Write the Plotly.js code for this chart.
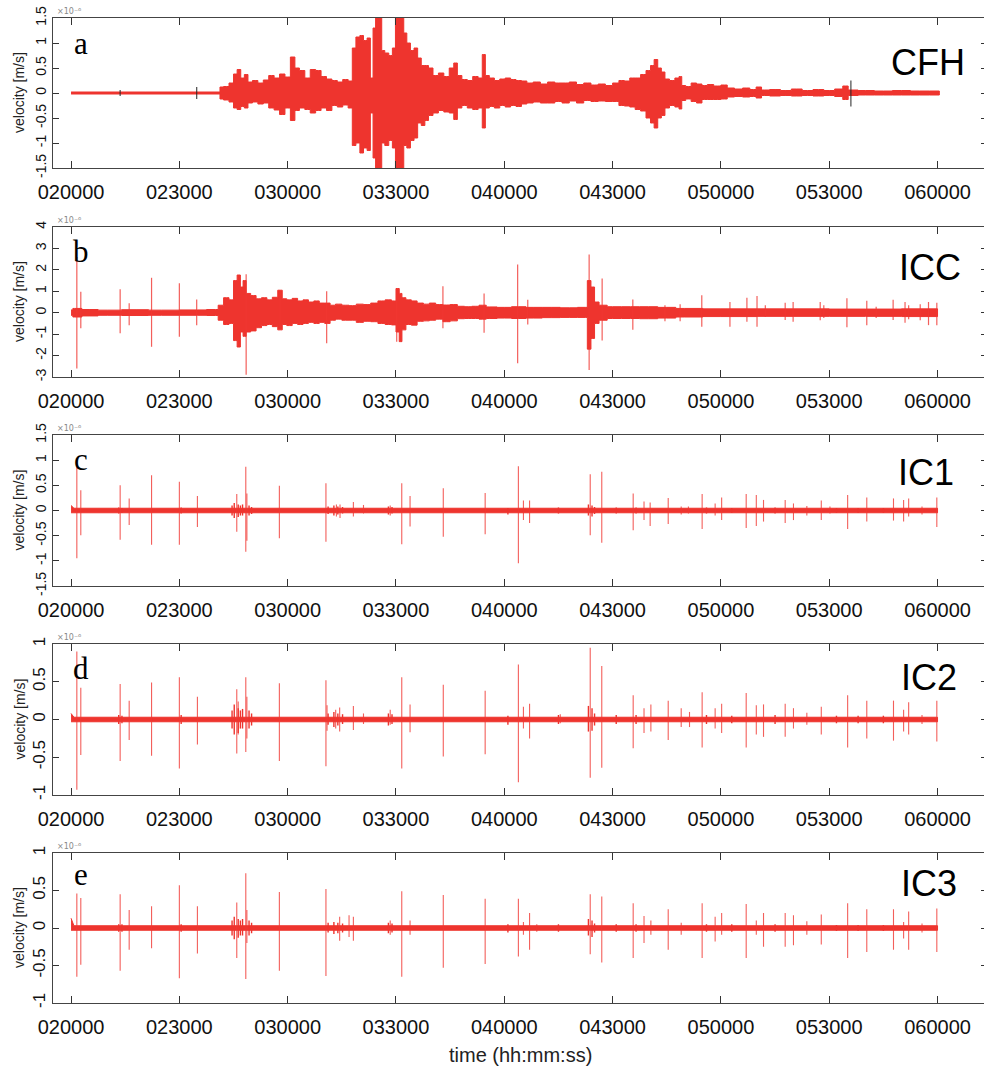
<!DOCTYPE html>
<html><head><meta charset="utf-8">
<script src="https://cdn.plot.ly/plotly-3.0.1.min.js"></script>
<style>html,body{margin:0;padding:0;overflow:hidden;background:#fff}</style>
</head><body><div id="chart" style="width:987px;height:1074px"></div>
<script>
// ---- time axis (minutes after 02:00:00) ----
const xTickVals = [0,30,60,90,120,150,180,210,240];
const xTickText = ['020000','023000','030000','033000','040000','043000','050000','053000','060000'];
const stationNames = ['CFH','ICC','IC1','IC2','IC3'];
const panelLetters = ['a','b','c','d','e'];

// ---- panel a: CFH envelope (x1e-6 m/s) ----
const cfhT = [0,41,41.5,43,44.5,45.5,46.5,47.5,48.5,49.5,
 51,52.5,54,55.5,57,58.5,60,61.5,62.5,64,
 65.5,67,68.5,70,71.5,73,74.5,76,77.5,78.3,
 79.5,80.5,81.5,82.5,83.3,84,84.7,85.8,86.3,87.5,
 88.5,89.5,90.2,91.8,92.5,93.5,94.5,95.5,96.5,97.5,
 98.5,99.5,101,102.5,104,105.5,106.5,107.5,109,110.5,
 112,113.5,114.3,115.2,116.5,118,119.5,121,122.5,124,
 125.5,127,129,131,133,135,137,139,141,143,
 145,147,149,151,152.5,154,155.5,157,158.5,160,
 161,162,163,164,165,166.5,168,168.8,169.5,171,
 172.5,174,175.5,177,179,181,182.5,185,187,189,
 190.5,192,195,198,201,204,207,210,213,214.5,
 216,220,225,230,235,240.5];
const cfhUp = [.02,.02,.12,.13,.2,.38,.47,.3,.37,.22,
 .25,.2,.26,.35,.3,.38,.32,.72,.5,.45,
 .3,.47,.45,.33,.28,.25,.22,.27,.24,.9,
 1.12,1.15,1.05,1.1,.3,1.3,1.6,1.6,.85,.8,
 .75,.9,1.6,1.6,1.2,1,.85,.9,.7,.55,
 .55,.5,.35,.4,.33,.5,.6,.35,.27,.25,
 .33,.3,.77,.35,.3,.25,.28,.3,.27,.25,
 .24,.2,.22,.18,.22,.2,.2,.22,.17,.2,
 .16,.18,.15,.2,.25,.24,.3,.3,.37,.45,
 .55,.67,.5,.42,.28,.25,.3,.33,.15,.13,
 .2,.18,.15,.17,.14,.16,.1,.08,.1,.07,
 .12,.06,.07,.05,.08,.05,.07,.05,.08,.14,
 .06,.05,.04,.05,.04,.04];
const cfhLo = [-.02,-.02,-.12,-.14,-.18,-.3,-.33,-.27,-.3,-.2,
 -.18,-.22,-.2,-.3,-.34,-.43,-.3,-.55,-.35,-.3,
 -.33,-.4,-.35,-.3,-.35,-.25,-.28,-.24,-.3,-1.05,
 -1,-1.2,-1.1,-1.15,-.4,-1.3,-1.6,-1.6,-1,-1.05,
 -.95,-1.1,-1.6,-1.6,-1.05,-1.1,-.95,-.9,-.6,-.65,
 -.55,-.45,-.4,-.35,-.38,-.4,-.53,-.3,-.25,-.3,
 -.33,-.3,-.7,-.3,-.27,-.3,-.25,-.28,-.25,-.27,
 -.22,-.2,-.18,-.2,-.2,-.17,-.2,-.16,-.2,-.15,
 -.17,-.16,-.17,-.17,-.25,-.26,-.28,-.33,-.36,-.5,
 -.6,-.7,-.5,-.45,-.3,-.25,-.28,-.32,-.15,-.12,
 -.17,-.2,-.13,-.13,-.13,-.12,-.08,-.07,-.08,-.07,
 -.1,-.05,-.06,-.05,-.06,-.05,-.06,-.05,-.07,-.13,
 -.05,-.04,-.04,-.04,-.04,-.04];
const cfhBlackT = [13.6,34.8,216];
const cfhBlackUp = [.06,.12,.25];
const cfhBlackLo = [-.06,-.12,-.27];

// ---- panel b: ICC ----
const iccEnvT = [0,1,5,10,18,25,35,40,41.5,43,
 44.5,45.5,46.5,47.3,48,49,50.5,52,53.5,55,
 56.5,58,59,60.5,62,63.5,65,66.5,68,69.5,
 71,72.5,74,76,78,80,82,84,86,88,
 89.5,90.5,91.3,92,93.5,95,96.7,98.5,100,102,
 104,106,108,110,112,114,116,120,124,128,
 133,138,142.5,143.5,144.5,145.5,147,150,155,160,
 165,170,180,200,220,240];
const iccEnvUp = [.13,.2,.15,.12,.14,.12,.13,.15,.35,.7,
 .6,1.5,1.76,1.2,1.5,.9,.8,.65,.7,.6,
 .72,1.05,.65,.6,.67,.55,.6,.5,.55,.45,
 .45,.35,.4,.35,.33,.4,.38,.45,.55,.6,
 .55,1.13,.9,.7,.6,.55,.45,.4,.45,.38,
 .36,.38,.3,.28,.3,.35,.27,.25,.28,.25,
 .25,.23,.25,1.5,1.2,.5,.35,.28,.28,.28,
 .25,.2,.18,.18,.17,.18];
const iccEnvLo = [-.12,-.2,-.15,-.12,-.13,-.12,-.12,-.13,-.35,-.55,
 -.5,-1.3,-1.6,-.9,-1.1,-.9,-.85,-.7,-.6,-.55,
 -.65,-.8,-.55,-.6,-.5,-.55,-.5,-.45,-.5,-.45,
 -.5,-.35,-.3,-.35,-.35,-.45,-.4,-.42,-.5,-.55,
 -.57,-.9,-1.35,-.8,-.55,-.58,-.4,-.38,-.35,-.3,
 -.42,-.38,-.28,-.27,-.27,-.3,-.27,-.25,-.27,-.25,
 -.23,-.22,-.22,-1.7,-1.2,-.5,-.35,-.27,-.27,-.28,
 -.25,-.2,-.18,-.17,-.17,-.18];
const iccSpkT = [1.6,2.7,13.6,16.1,22.3,30,34.8,48.5,57.9,70.8,
 90.2,103,114.4,123.7,126.5,143.5,147.1,155.6,164.5,168.7,
 174.7,182.5,187.2,190,192.3,197.8,200,207.5,208.5,214.9,
 220.4,223,227.7,231,232,235.2,237.5,239.8];
const iccSpkUp = [2.6,.98,1.1,.44,1.63,1.37,.62,1.8,1.06,1.0,
 1.13,1.24,.9,2.25,.6,2.72,1.6,.62,.35,.4,
 .82,.5,.7,.78,.35,.47,.5,.5,.35,.67,
 .56,.28,.6,.5,.35,.39,.5,.47];
const iccSpkLo = [-2.6,-.73,-.96,-.58,-1.59,-1.12,-.58,-2.9,-.8,-1.43,
 -1.35,-.73,-.93,-2.36,-.55,-2.67,-1.3,-.8,-.4,-.4,
 -.65,-.65,-.42,-.65,-.2,-.34,-.42,-.35,-.25,-.68,
 -.58,-.25,-.34,-.47,-.3,-.35,-.58,-.58];

// ---- panels c-e: IC1, IC2, IC3 ----
const icEnvT = [0,0.8,240];
const ic1EnvUp = [.1,.045,.045];
const ic1EnvLo = [-.045,-.045,-.045];
const ic2EnvUp = [.08,.03,.03];
const ic2EnvLo = [-.03,-.03,-.03];
const ic3EnvUp = [.13,.03,.03];
const ic3EnvLo = [-.03,-.03,-.03];

const icBurstT = [13.2,14.1,30.5,44.6,45.2,46.3,46.9,47.5,49.3,50,
 71.2,72.8,73.9,75.2,87.9,88.9,121,135,143.3,144.3,
 145,151,156.5,176,183,195,212,218,225];
const ic1BurstUp = [.06,.05,.06,.1,.15,.12,.1,.12,.1,.07,
 .08,.1,.08,.07,.08,.07,.05,.06,.12,.1,
 .07,.06,.06,.06,.05,.06,.05,.05,.05];
const ic1BurstLo = [-.06,-.05,-.06,-.1,-.15,-.13,-.1,-.1,-.1,-.07,
 -.07,-.1,-.08,-.06,-.08,-.06,-.08,-.06,-.1,-.12,
 -.07,-.06,-.06,-.06,-.05,-.06,-.05,-.05,-.05];
const ic2BurstUp = [.06,.05,.06,.12,.2,.15,.12,.14,.12,.08,
 .08,.1,.08,.07,.08,.07,.05,.06,.18,.15,
 .08,.06,.06,.06,.05,.06,.05,.05,.05];
const ic2BurstLo = [-.06,-.05,-.06,-.12,-.2,-.18,-.12,-.12,-.12,-.08,
 -.07,-.1,-.08,-.06,-.08,-.06,-.07,-.06,-.16,-.15,
 -.08,-.06,-.06,-.06,-.05,-.06,-.05,-.05,-.05];
const ic3BurstUp = [.05,.05,.05,.1,.15,.12,.1,.12,.1,.07,
 .07,.08,.07,.06,.07,.06,.05,.05,.12,.1,
 .06,.05,.05,.05,.05,.05,.04,.04,.04];
const ic3BurstLo = [-.05,-.05,-.05,-.1,-.15,-.13,-.1,-.1,-.1,-.07,
 -.06,-.08,-.07,-.06,-.07,-.06,-.06,-.05,-.1,-.12,
 -.06,-.05,-.05,-.05,-.05,-.05,-.04,-.04,-.04];

const ic1SpkT = [1.6,2.7,13.6,16.1,22.3,30,35,45.9,48.4,48.7,
 57.7,70.6,73.5,74.5,78.2,81,88.4,91.6,93.9,103.1,
 114.7,123.9,125.3,127,143.8,147,155.7,158.7,160.4,165.4,
 169,171,174.8,178.4,180.2,187,189.8,191.8,197.8,200.1,
 203.8,207.8,210.2,215.1,220.4,227.8,230.6,232,235.7,239.8];
const ic1SpkUp = [.87,.4,.5,.24,.7,.57,.29,.33,.87,.34,
 .49,.54,.12,.12,.17,.11,.1,.54,.29,.44,
 .35,.88,.2,.2,.72,.77,.34,.18,.16,.25,
 .08,.08,.33,.14,.26,.33,.31,.21,.21,.14,
 .09,.2,.08,.31,.26,.24,.21,.24,.08,.26];
const ic1SpkLo = [-.95,-.49,-.58,-.29,-.68,-.68,-.33,-.42,-.82,-.6,
 -.55,-.62,-.12,-.15,-.12,-.06,-.1,-.67,-.32,-.52,
 -.47,-1.05,-.19,-.25,-.49,-.64,-.39,-.19,-.31,-.27,
 -.08,-.06,-.37,-.1,-.19,-.35,-.31,-.22,-.25,-.19,
 -.1,-.19,-.06,-.37,-.22,-.2,-.22,-.12,-.08,-.33];

const ic2SpkT = [1.6,2.7,13.6,16.1,22.3,30,35,45.9,46.3,48.4,
 48.7,57.7,70.6,70.9,73.3,74.4,78.2,81,88.4,91.6,
 93.9,103.1,114.7,123.9,125.3,127,135.5,143.8,147,155.7,
 158.7,160.6,165.4,169,171.3,174.8,178.4,180.2,187,189.8,
 191.8,197.8,200.1,203.8,207.8,215.1,220.4,227.8,230.6,232,
 235.7,239.8];
const ic2SpkUp = [.9,.42,.47,.25,.49,.56,.3,.4,.24,.56,
 .3,.48,.52,.19,.13,.16,.18,.08,.13,.56,
 .2,.46,.38,.73,.17,.21,.07,.95,.71,.32,
 .15,.2,.25,.15,.1,.36,.15,.21,.35,.19,
 .2,.21,.15,.09,.17,.32,.25,.25,.13,.23,
 .06,.25];
const ic2SpkLo = [-.93,-.47,-.55,-.27,-.48,-.65,-.33,-.45,-.2,-.43,
 -.25,-.55,-.62,-.15,-.12,-.16,-.14,-.06,-.07,-.65,
 -.17,-.49,-.46,-.83,-.12,-.25,-.05,-.77,-.64,-.38,
 -.18,-.16,-.27,-.1,-.1,-.37,-.12,-.18,-.37,-.2,
 -.23,-.23,-.12,-.07,-.2,-.37,-.25,-.28,-.16,-.2,
 -.06,-.29];

const ic3SpkT = [1.6,2.7,13.6,16.1,22.3,30,35,45.9,48.4,48.7,
 57.7,70.6,74.4,77,78.2,88.4,91.6,93.9,103.1,114.7,
 123.9,125.3,127,129,143.8,147,155.7,158.7,160.6,165.4,
 169,174.8,178.4,180.2,187,189.8,191.8,197.8,200.1,203.8,
 207.8,215.1,220.4,227.8,230.6,232,235.7,239.8];
const ic3SpkUp = [.46,.4,.45,.24,.29,.57,.29,.34,.73,.24,
 .48,.52,.15,.17,.15,.1,.49,.1,.44,.39,
 .39,.08,.2,.05,.45,.42,.33,.16,.1,.25,
 .07,.33,.15,.2,.32,.1,.2,.2,.17,.09,
 .18,.33,.25,.25,.08,.22,.06,.26];
const ic3SpkLo = [-.65,-.49,-.57,-.29,-.27,-.67,-.34,-.4,-.68,-.2,
 -.57,-.64,-.17,-.12,-.17,-.09,-.65,-.09,-.53,-.48,
 -.38,-.09,-.29,-.05,-.35,-.46,-.4,-.2,-.09,-.29,
 -.09,-.4,-.18,-.09,-.4,-.09,-.25,-.25,-.23,-.09,
 -.22,-.4,-.32,-.29,-.14,-.29,-.06,-.32];

// ---- y axes ----
const yRanges = [[-1.5,1.5],[-3,4],[-1.5,1.5],[-1,1],[-1,1]];
const yTickValsA = [-1.5,-1,-0.5,0,0.5,1,1.5];
const yTickTextA = ['-1.5','-1','-0.5','0','0.5','1','1.5'];
const yTickValsB = [-3,-2,-1,0,1,2,3,4];
const yTickTextB = ['-3','-2','-1','0','1','2','3','4'];
const yTickValsD = [-1,-0.5,0,0.5,1];
const yTickTextD = ['-1','-0.5','0','0.5','1'];

// ---------------- build ----------------
const RED = 'rgb(238,52,46)';
const SPK = 'rgba(240,55,50,0.8)';
function axes(k) { const s = k ? String(k + 1) : ''; return {xaxis: 'x' + s, yaxis: 'y' + s}; }
function envTrace(t, up, lo, k, shape) {
  const n = Math.min(t.length, up.length, lo.length);
  const x = [], y = [];
  for (let i = 0; i < n; i++) { x.push(t[i]); y.push(up[i]); }
  for (let i = n - 1; i >= 0; i--) { x.push(t[i]); y.push(lo[i]); }
  return Object.assign({x, y, mode: 'lines', fill: 'toself', fillcolor: RED,
    line: {color: RED, width: 1, shape: shape || 'linear'}, hoverinfo: 'skip', showlegend: false}, axes(k));
}
function spikeTrace(t, up, lo, k, color, w) {
  const n = Math.min(t.length, up.length, lo.length);
  const x = [], y = [];
  for (let i = 0; i < n; i++) { x.push(t[i], t[i], null); y.push(up[i], lo[i], null); }
  return Object.assign({x, y, mode: 'lines', line: {color: color, width: w},
    hoverinfo: 'skip', showlegend: false}, axes(k));
}

const data = [
  envTrace(cfhT, cfhUp, cfhLo, 0, 'hvh'),
  spikeTrace(cfhBlackT, cfhBlackUp, cfhBlackLo, 0, 'rgba(40,40,40,0.85)', 1.2),
  envTrace(iccEnvT, iccEnvUp, iccEnvLo, 1, 'hvh'),
  spikeTrace(iccSpkT, iccSpkUp, iccSpkLo, 1, SPK, 1.2),
  envTrace(icEnvT, ic1EnvUp, ic1EnvLo, 2),
  spikeTrace(icBurstT, ic1BurstUp, ic1BurstLo, 2, RED, 1.4),
  spikeTrace(ic1SpkT, ic1SpkUp, ic1SpkLo, 2, SPK, 1.1),
  envTrace(icEnvT, ic2EnvUp, ic2EnvLo, 3),
  spikeTrace(icBurstT, ic2BurstUp, ic2BurstLo, 3, RED, 1.4),
  spikeTrace(ic2SpkT, ic2SpkUp, ic2SpkLo, 3, SPK, 1.1),
  envTrace(icEnvT, ic3EnvUp, ic3EnvLo, 4),
  spikeTrace(icBurstT, ic3BurstUp, ic3BurstLo, 4, RED, 1.4),
  spikeTrace(ic3SpkT, ic3SpkUp, ic3SpkLo, 4, SPK, 1.1)
];

const W = 987, H = 1074, L = 53;
const px = X => (X - L) / (W - L);
const py = Y => 1 - Y / H;
const boxes = [[18,168],[227,377],[435,586],[644,795],[853,1003]];
const yTV = [yTickValsA, yTickValsB, yTickValsA, yTickValsD, yTickValsD];
const yTT = [yTickTextA, yTickTextB, yTickTextA, yTickTextD, yTickTextD];
const yFont = [14,14,14,17,17];
const nameRight = [967,963,956,959,959];
const nameY = [63,267,472,677,883];
const letterY = [44,251,459,668,874];
const FONT = 'Liberation Sans, Arial, Helvetica, sans-serif';

const layout = {
  width: W, height: H, margin: {l: L, r: 0, t: 0, b: 0},
  paper_bgcolor: '#fff', plot_bgcolor: '#fff', showlegend: false,
  font: {family: FONT, color: '#111'},
  annotations: []
};
for (let k = 0; k < 5; k++) {
  const s = k ? String(k + 1) : '';
  const [top, bot] = boxes[k];
  layout['xaxis' + s] = {
    domain: [0, 1], range: [-5, 253.7], anchor: 'y' + s,
    tickmode: 'array', tickvals: xTickVals, ticktext: xTickText,
    ticks: 'inside', ticklen: 7, tickcolor: '#333', tickwidth: 1,
    showline: true, linecolor: '#444', linewidth: 1, mirror: 'ticks',
    showgrid: false, zeroline: false, fixedrange: true,
    ticklabelstandoff: 6,
    tickfont: {family: FONT, size: 20, color: '#111'}
  };
  layout['yaxis' + s] = {
    domain: [py(bot), py(top)], range: yRanges[k], anchor: 'x' + s,
    tickmode: 'array', tickvals: yTV[k], ticktext: yTT[k], tickangle: -90,
    ticks: 'inside', ticklen: 6, tickcolor: '#333', tickwidth: 1,
    showline: true, linecolor: '#444', linewidth: 1, mirror: 'ticks',
    showgrid: false, zeroline: false, fixedrange: true,
    tickfont: {family: FONT, size: yFont[k], color: '#111'}
  };
  layout.annotations.push({xref: 'paper', yref: 'paper', x: px(19), y: py((top + bot) / 2),
    text: 'velocity [m/s]', textangle: -90, showarrow: false, xanchor: 'center', yanchor: 'middle',
    font: {family: FONT, size: 14, color: '#222'}});
  layout.annotations.push({xref: 'paper', yref: 'paper', x: px(55), y: py(top - 7),
    text: '×10⁻⁶', showarrow: false, xanchor: 'left', yanchor: 'middle',
    font: {family: 'DejaVu Sans, sans-serif', size: 8, color: '#888'}});
  layout.annotations.push({xref: 'paper', yref: 'paper', x: px(81), y: py(letterY[k]),
    text: panelLetters[k], showarrow: false, xanchor: 'center', yanchor: 'middle',
    font: {family: 'Liberation Serif, Times New Roman, serif', size: 31, color: '#000'}});
  layout.annotations.push({xref: 'paper', yref: 'paper', x: px(nameRight[k]), y: py(nameY[k]),
    text: stationNames[k], showarrow: false, xanchor: 'right', yanchor: 'middle',
    bgcolor: 'rgba(255,255,255,0.9)', borderpad: 1,
    font: {family: FONT, size: 36, color: '#000'}});
}
layout.annotations.push({xref: 'paper', yref: 'paper', x: px(520), y: py(1055),
  text: 'time (hh:mm:ss)', showarrow: false, xanchor: 'center', yanchor: 'middle',
  font: {family: FONT, size: 20, color: '#222'}});

Plotly.newPlot('chart', data, layout, {staticPlot: true, displayModeBar: false});
</script></body></html>
